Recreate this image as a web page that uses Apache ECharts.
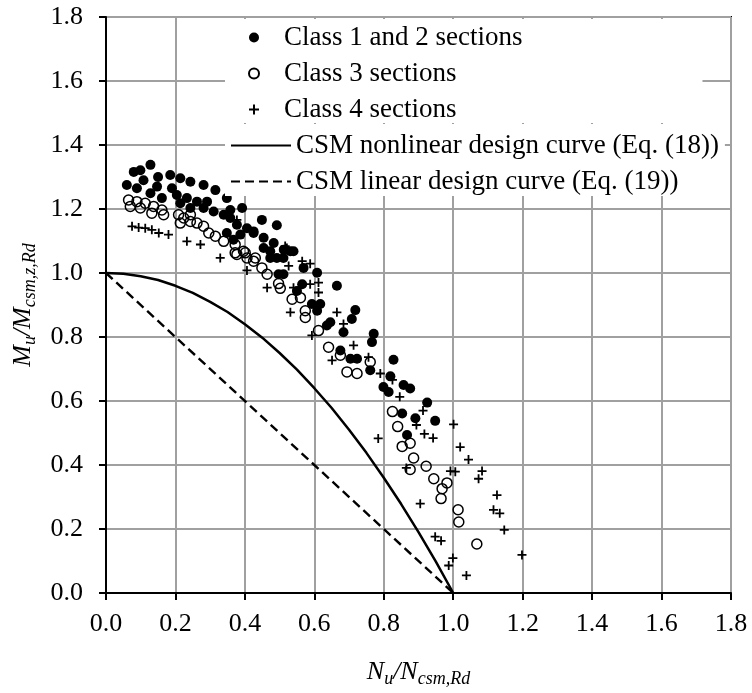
<!DOCTYPE html>
<html>
<head>
<meta charset="utf-8">
<script src="https://cdn.jsdelivr.net/npm/echarts@6/dist/echarts.min.js"></script>
<style>html,body{margin:0;padding:0;background:#fff}#c{width:752px;height:693px}</style>
</head>
<body>
<div id="c"></div>
<script>
const FONT = "'Liberation Serif','Times New Roman',serif";
const xTicks = [0, 0.2, 0.4, 0.6, 0.8, 1.0, 1.2, 1.4, 1.6, 1.8];
const yTicks = [0, 0.2, 0.4, 0.6, 0.8, 1.0, 1.2, 1.4, 1.6, 1.8];
const seriesNames = ['Class 1 and 2 sections', 'Class 3 sections', 'Class 4 sections',
  'CSM nonlinear design curve (Eq. (18))', 'CSM linear design curve (Eq. (19))'];

const class12 = [[0.128,1.338],[0.080,1.316],[0.099,1.321],[0.060,1.275],[0.108,1.290],[0.150,1.300],[0.185,1.306],[0.214,1.296],[0.243,1.285],[0.281,1.275],[0.315,1.259],[0.348,1.234],[0.392,1.203],[0.358,1.197],[0.449,1.166],[0.492,1.149],[0.190,1.265],[0.147,1.270],[0.089,1.265],[0.128,1.249],[0.161,1.234],[0.204,1.244],[0.233,1.234],[0.262,1.223],[0.291,1.223],[0.214,1.218],[0.243,1.203],[0.281,1.203],[0.310,1.192],[0.339,1.182],[0.358,1.172],[0.377,1.151],[0.406,1.140],[0.425,1.125],[0.387,1.120],[0.454,1.110],[0.483,1.094],[0.512,1.073],[0.531,1.068],[0.473,1.068],[0.454,1.078],[0.367,1.104],[0.348,1.125],
[0.540,1.068],[0.511,1.047],[0.492,1.047],[0.473,1.047],[0.569,1.016],[0.608,1.001],[0.511,0.996],[0.497,0.996],[0.665,0.960],[0.565,0.965],[0.550,0.944],[0.593,0.903],[0.617,0.903],[0.608,0.882],[0.718,0.884],[0.708,0.856],[0.646,0.846],[0.636,0.836],[0.684,0.815],[0.771,0.810],[0.766,0.784],[0.675,0.758],[0.723,0.732],[0.704,0.732],[0.828,0.729],[0.761,0.696],[0.819,0.677],[0.425,1.130],
[0.857,0.650],[0.876,0.639],[0.925,0.595],[0.853,0.561],[0.891,0.546],[0.948,0.538],[0.867,0.494],[0.799,0.644],[0.814,0.628]];

const class3 = [[0.065,1.228],[0.089,1.223],[0.113,1.218],[0.137,1.208],[0.161,1.197],[0.070,1.208],[0.099,1.203],[0.132,1.187],[0.166,1.182],[0.209,1.182],[0.224,1.172],[0.214,1.156],[0.243,1.161],[0.262,1.156],[0.281,1.146],[0.296,1.125],[0.315,1.115],[0.339,1.099],[0.372,1.089],[0.396,1.068],[0.406,1.047],[0.377,1.058],[0.425,1.037],[0.243,1.182],[0.372,1.063],[0.401,1.063],
[0.430,1.047],[0.449,1.016],[0.464,0.996],[0.497,0.967],[0.502,0.952],[0.536,0.918],[0.560,0.923],[0.574,0.882],[0.574,0.861],[0.612,0.820],[0.641,0.768],[0.675,0.743],[0.761,0.722],[0.694,0.691],[0.723,0.686],
[0.876,0.468],[0.853,0.458],[0.886,0.422],[0.922,0.396],[0.876,0.386],[0.944,0.357],[0.982,0.344],[0.968,0.326],[0.965,0.295],[1.014,0.260],[1.016,0.222],[1.068,0.153],[0.825,0.567],[0.840,0.520]];

const class4 = [[0.075,1.146],[0.094,1.142],[0.113,1.140],[0.132,1.135],[0.152,1.125],[0.180,1.120],[0.233,1.099],[0.272,1.089],[0.329,1.047],[0.377,1.166],[0.406,1.008],[0.521,1.078],
[0.516,1.084],[0.565,1.037],[0.588,1.029],[0.526,1.022],[0.612,0.970],[0.464,0.954],[0.540,0.954],[0.588,0.965],[0.612,0.939],[0.531,0.877],[0.665,0.877],[0.684,0.841],[0.593,0.805],[0.713,0.774],[0.756,0.737],[0.651,0.727],[0.790,0.686],
[0.913,0.570],[0.894,0.525],[1.001,0.527],[0.917,0.497],[0.942,0.484],[1.020,0.456],[1.044,0.417],[0.865,0.391],[0.992,0.381],[1.006,0.379],[1.083,0.381],[1.073,0.357],[1.126,0.306],
[0.905,0.279],[1.116,0.260],[1.134,0.249],[1.147,0.197],[0.948,0.176],[0.965,0.163],[0.999,0.109],[0.987,0.086],[1.038,0.055],[1.198,0.119],[0.846,0.613],[0.784,0.483],[0.825,0.666]];

const nonlinearCurve = [[0,1],[0.05,0.998],[0.1,0.99],[0.15,0.978],[0.2,0.96],[0.25,0.938],[0.3,0.91],[0.35,0.878],[0.4,0.84],[0.45,0.798],[0.5,0.75],[0.55,0.698],[0.6,0.64],[0.65,0.578],[0.7,0.51],[0.75,0.438],[0.8,0.36],[0.85,0.278],[0.9,0.19],[0.95,0.098],[1.0,0]];
const linearCurve = [[0,1],[1,0]];

const PLUS = 'path://M4,0H6V4H10V6H6V10H4V6H0V4H4Z';
const chart = echarts.init(document.getElementById('c'), null, {renderer: 'canvas'});
const txt = {fontFamily: FONT, fontSize: 26, color: '#000'};
const legendTxt = {fontFamily: FONT, fontSize: 27, color: '#000'};
const richName = {
  i: {fontFamily: FONT, fontStyle: 'italic', fontSize: 26, lineHeight: 32, color: '#000'},
  s: {fontFamily: FONT, fontStyle: 'italic', fontSize: 18, lineHeight: 14, verticalAlign: 'bottom', color: '#000'}
};
const axisCommon = {
  type: 'value', min: 0, max: 1.8, interval: 0.2,
  axisLine: {show: true, lineStyle: {color: '#000', width: 2}},
  axisTick: {show: true, inside: false, length: 7, lineStyle: {color: '#000', width: 2}},
  splitLine: {show: true, lineStyle: {color: '#a0a0a0', width: 2}},
  axisLabel: Object.assign({formatter: v => v.toFixed(1)}, txt),
  nameLocation: 'middle'
};
chart.setOption({
  animation: false,
  backgroundColor: '#fff',
  grid: {left: 106, right: 21, top: 17, bottom: 95, show: true, borderColor: '#000', borderWidth: 2, backgroundColor: 'transparent'},
  xAxis: Object.assign({}, axisCommon, {
    axisLabel: Object.assign({}, axisCommon.axisLabel, {margin: 18}),
    name: '{i|N}{s|u}{i|/N}{s|csm,Rd}', nameGap: 63,
    nameTextStyle: {rich: richName}
  }),
  yAxis: Object.assign({}, axisCommon, {
    axisLabel: Object.assign({}, axisCommon.axisLabel, {margin: 23}),
    name: '{i|M}{s|u}{i|/M}{s|csm,z,Rd}', nameGap: 64, nameRotate: 90,
    nameTextStyle: {rich: richName}
  }),
  legend: [
    {data: seriesNames.slice(0, 3), orient: 'vertical', left: 225, top: 19,
     padding: [5, 180, 0, 23], itemWidth: 50, itemHeight: 10, itemGap: 9,
     backgroundColor: '#fff', textStyle: legendTxt, selectedMode: false},
    {data: seriesNames.slice(3), orient: 'vertical', left: 225, top: 124,
     padding: [8, 6, 1, 5], itemWidth: 60, itemHeight: 10, itemGap: 9,
     itemStyle: {opacity: 0}, backgroundColor: '#fff', textStyle: legendTxt, selectedMode: false}
  ],
  series: [
    {name: seriesNames[0], type: 'scatter', data: class12, symbol: 'circle', symbolSize: 10,
     itemStyle: {color: '#000', opacity: 1}},
    {name: seriesNames[1], type: 'scatter', data: class3, symbol: 'circle', symbolSize: 10,
     itemStyle: {color: 'rgba(255,255,255,0)', borderColor: '#000', borderWidth: 1.5, opacity: 1}},
    {name: seriesNames[2], type: 'scatter', data: class4, symbol: PLUS, symbolSize: 9,
     itemStyle: {color: '#000', opacity: 1}},
    {name: seriesNames[3], type: 'line', data: nonlinearCurve, showSymbol: false, symbol: 'none',
     lineStyle: {color: '#000', width: 2.5, type: 'solid'}, itemStyle: {color: '#000'}},
    {name: seriesNames[4], type: 'line', data: linearCurve, showSymbol: false, symbol: 'none',
     lineStyle: {color: '#000', width: 2.4, type: [9, 5]}, itemStyle: {color: '#000'}}
  ]
});
</script>
</body>
</html>
